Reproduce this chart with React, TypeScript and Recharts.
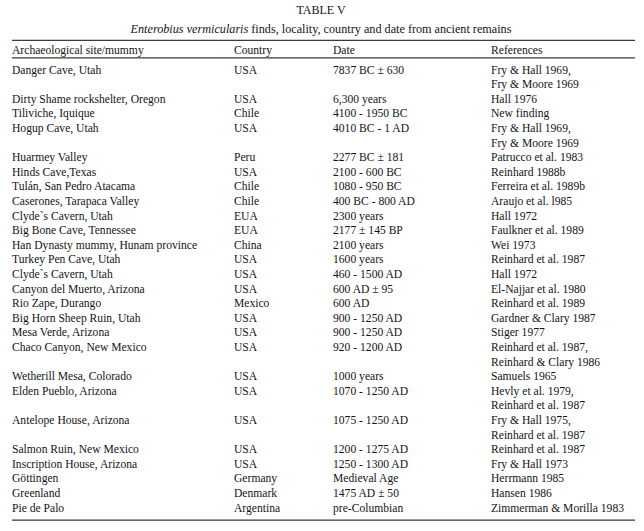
import React from 'react';
import { ScatterChart, Scatter, XAxis, YAxis, ReferenceLine } from 'recharts';

const title = 'TABLE V';
const subtitleItalic = 'Enterobius vermicularis';
const subtitleRest = ' finds, locality, country and date from ancient remains';

const headers = ['Archaeological site/mummy', 'Country', 'Date', 'References'];

const sites = [
  'Danger Cave, Utah',
  'Dirty Shame rockshelter, Oregon',
  'Tiliviche, Iquique',
  'Hogup Cave, Utah',
  'Huarmey Valley',
  'Hinds Cave,Texas',
  'Tulán, San Pedro Atacama',
  'Caserones, Tarapaca Valley',
  'Clyde`s Cavern, Utah',
  'Big Bone Cave, Tennessee',
  'Han Dynasty mummy, Hunam province',
  'Turkey Pen Cave, Utah',
  'Clyde`s Cavern, Utah',
  'Canyon del Muerto, Arizona',
  'Rio Zape, Durango',
  'Big Horn Sheep Ruin, Utah',
  'Mesa Verde, Arizona',
  'Chaco Canyon, New Mexico',
  'Wetherill Mesa, Colorado',
  'Elden Pueblo, Arizona',
  'Antelope House, Arizona',
  'Salmon Ruin, New Mexico',
  'Inscription House, Arizona',
  'Göttingen',
  'Greenland',
  'Pie de Palo',
];

const countries = [
  'USA', 'USA', 'Chile', 'USA', 'Peru', 'USA', 'Chile', 'Chile', 'EUA', 'EUA',
  'China', 'USA', 'USA', 'USA', 'Mexico', 'USA', 'USA', 'USA', 'USA', 'USA',
  'USA', 'USA', 'USA', 'Germany', 'Denmark', 'Argentina',
];

const dates = [
  '7837 BC ± 630',
  '6,300 years',
  '4100 - 1950 BC',
  '4010 BC - 1 AD',
  '2277 BC ± 181',
  '2100 - 600 BC',
  '1080 - 950 BC',
  '400 BC - 800 AD',
  '2300 years',
  '2177 ± 145 BP',
  '2100 years',
  '1600 years',
  '460 - 1500 AD',
  '600 AD ± 95',
  '600 AD',
  '900 - 1250 AD',
  '900 - 1250 AD',
  '920 - 1200 AD',
  '1000 years',
  '1070 - 1250 AD',
  '1075 - 1250 AD',
  '1200 - 1275 AD',
  '1250 - 1300 AD',
  'Medieval Age',
  '1475 AD ± 50',
  'pre-Columbian',
];

const references = [
  ['Fry & Hall 1969,', 'Fry & Moore 1969'],
  ['Hall 1976'],
  ['New finding'],
  ['Fry & Hall 1969,', 'Fry & Moore 1969'],
  ['Patrucco et al. 1983'],
  ['Reinhard 1988b'],
  ['Ferreira et al. 1989b'],
  ['Araujo et al. l985'],
  ['Hall 1972'],
  ['Faulkner et al. 1989'],
  ['Wei 1973'],
  ['Reinhard et al. 1987'],
  ['Hall 1972'],
  ['El-Najjar et al. 1980'],
  ['Reinhard et al. 1989'],
  ['Gardner & Clary 1987'],
  ['Stiger 1977'],
  ['Reinhard et al. 1987,', 'Reinhard & Clary 1986'],
  ['Samuels 1965'],
  ['Hevly et al. 1979,', 'Reinhard et al. 1987'],
  ['Fry & Hall 1975,', 'Reinhard et al. 1987'],
  ['Reinhard et al. 1987'],
  ['Fry & Hall 1973'],
  ['Herrmann 1985'],
  ['Hansen 1986'],
  ['Zimmerman & Morilla 1983'],
];

// layout (x in px, y in text lines, 0 = first body row)
const W = 644;
const H = 531;
const COL_X = [12, 234, 333, 491];
const CENTER_X = 321;
const RULE_X = [12, 635];
const Y_DOMAIN = [-4.76, 31.61];
const TITLE_Y = -4.07;
const SUBTITLE_Y = -2.77;
const HEADER_Y = -1.37;
const RULES_Y = [-1.99, -0.79, 30.86];
const FONT = '"Liberation Serif", "Times New Roman", Times, serif';
const FONT_SIZE = 11.6;
const INK = '#141414';

// each row starts on the line after the previous row's last reference line
const rowLine: number[] = [];
references.reduce((line, refs, i) => {
  rowLine[i] = line;
  return line + refs.length;
}, 0);

type Cell = { x: number; y: number; text: string; anchor?: string; italic?: string; size?: number };

const cells: Cell[] = [];
headers.forEach((h, c) => cells.push({ x: COL_X[c], y: HEADER_Y, text: h }));
sites.forEach((s, i) => {
  cells.push({ x: COL_X[0], y: rowLine[i], text: s });
  cells.push({ x: COL_X[1], y: rowLine[i], text: countries[i] });
  cells.push({ x: COL_X[2], y: rowLine[i], text: dates[i] });
  references[i].forEach((r, k) => cells.push({ x: COL_X[3], y: rowLine[i] + k, text: r }));
});

const headings: Cell[] = [
  { x: CENTER_X, y: TITLE_Y, text: title, anchor: 'middle', size: 12 },
  { x: CENTER_X, y: SUBTITLE_Y, text: subtitleRest, italic: subtitleItalic, anchor: 'middle', size: 12.2 },
];

const TextShape = (props: any) => {
  const { cx, cy, payload } = props;
  return (
    <text
      x={cx}
      y={cy}
      dy="0.35em"
      textAnchor={payload.anchor || 'start'}
      fontFamily={FONT}
      fontSize={payload.size || FONT_SIZE}
      fill={INK}
    >
      {payload.italic ? <tspan fontStyle="italic">{payload.italic}</tspan> : null}
      {payload.italic ? <tspan>{payload.text}</tspan> : payload.text}
    </text>
  );
};

export default function App() {
  return (
    <div style={{ position: 'absolute', left: 0, top: 0, width: W, height: H, background: '#fff' }}>
      <ScatterChart width={W} height={H} margin={{ top: 0, right: 0, bottom: 0, left: 0 }}>
        <XAxis type="number" dataKey="x" domain={[0, W]} hide />
        <YAxis type="number" dataKey="y" domain={Y_DOMAIN} reversed hide />
        {RULES_Y.map((y) => (
          <ReferenceLine
            key={y}
            segment={[{ x: RULE_X[0], y }, { x: RULE_X[1], y }]}
            stroke="#3a3a3a"
            strokeWidth={1.2}
            ifOverflow="visible"
          />
        ))}
        <Scatter data={headings} shape={TextShape} isAnimationActive={false} />
        <Scatter data={cells} shape={TextShape} isAnimationActive={false} />
      </ScatterChart>
    </div>
  );
}
